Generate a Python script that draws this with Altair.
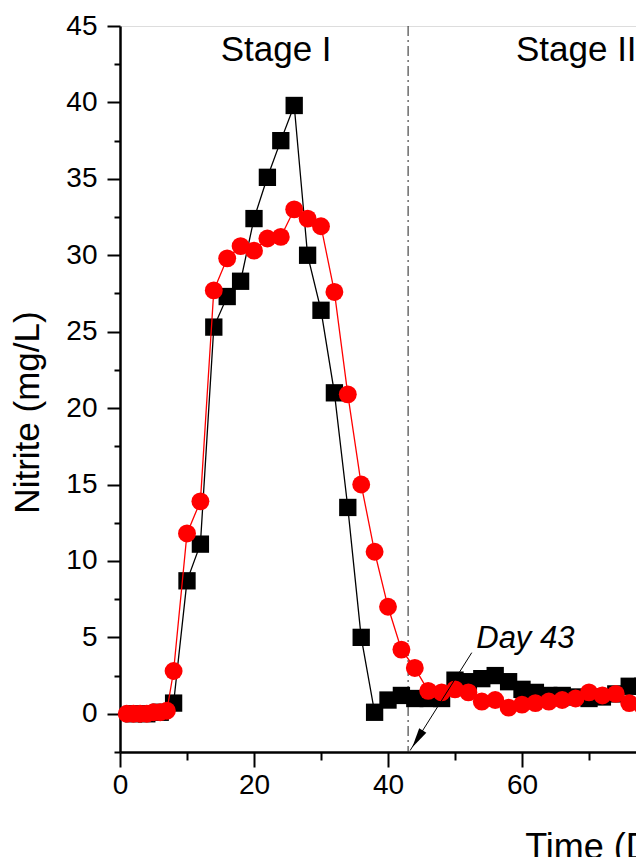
import altair as alt
import pandas as pd

# ---------------- data ----------------
black_days = [2, 4, 6, 8, 10, 12, 14, 16, 18, 20, 22, 24, 26, 28, 30, 32, 34, 36, 38, 40,
              42, 44, 46, 48, 50, 52, 54, 56, 58, 60, 62, 64, 66, 68, 70, 72, 74, 76, 78, 80]
black_nitrite = [0.0, 0.0, 0.1, 0.7, 8.7, 11.1, 25.3, 27.3, 28.3, 32.4, 35.1, 37.5, 39.8, 30.0,
                 26.4, 21.0, 13.5, 5.0, 0.1, 0.9, 1.2, 1.0, 1.0, 1.0, 2.2, 2.1, 2.3, 2.5, 2.1,
                 1.6, 1.4, 1.2, 1.2, 1.1, 1.0, 1.1, 1.3, 1.8, 1.8, 1.8]

red_days = [1, 2, 3, 4, 5, 6, 7, 8, 10, 12, 14, 16, 18, 20, 22, 24, 26, 28, 30, 32, 34, 36,
            38, 40, 42, 44, 46, 48, 50, 52, 54, 56, 58, 60, 62, 64, 66, 68, 70, 72, 74, 76, 78, 80]
red_nitrite = [0.0, 0.0, 0.0, 0.0, 0.1, 0.1, 0.2, 2.8, 11.8, 13.9, 27.7, 29.8, 30.6, 30.3, 31.1,
               31.2, 33.0, 32.4, 31.9, 27.6, 20.9, 15.0, 10.6, 7.0, 4.2, 3.0, 1.5, 1.4, 1.6, 1.4,
               0.8, 0.9, 0.4, 0.6, 0.7, 0.8, 0.9, 1.0, 1.4, 1.2, 1.3, 0.7, 0.5, 0.6]

stage_labels = ["Stage I", "Stage II"]
stage_days = [23.3, 68.1]
stage_level = [42.7, 42.7]

divider_day = [43]

note_text = ["Day 43"]
note_day = [60.5]
note_level = [4.3]

arrow_from_day = [52.5]
arrow_from_level = [4.0]
arrow_to_day = [43.3]
arrow_to_level = [-2.4]
arrowhead_day = [44.4]
arrowhead_level = [-1.65]

y_ticks = [-2.5, 0, 2.5, 5, 7.5, 10, 12.5, 15, 17.5, 20, 22.5, 25, 27.5, 30, 32.5, 35, 37.5,
           40, 42.5, 45]
x_ticks = [0, 10, 20, 30, 40, 50, 60, 70, 80, 90, 100, 110, 120, 130, 140, 150]

FONT = "Liberation Sans"

df_black = pd.DataFrame({"day": black_days, "val": black_nitrite})
df_red = pd.DataFrame({"day": red_days, "val": red_nitrite})
df_stage = pd.DataFrame({"day": stage_days, "val": stage_level, "label": stage_labels})
df_div = pd.DataFrame({"day": divider_day})
df_note = pd.DataFrame({"day": note_day, "val": note_level, "label": note_text})
df_arrow = pd.DataFrame({"day": arrow_from_day, "val": arrow_from_level,
                         "day2": arrow_to_day, "val2": arrow_to_level})
df_head = pd.DataFrame({"day": arrowhead_day, "val": arrowhead_level})

# the full time axis (0-150 d) is wider than the window; only its left part is visible
x_scale = alt.Scale(domain=[0, 150], range=[0, 1005], nice=False, zero=False)
y_scale = alt.Scale(domain=[-2.5, 45], nice=False, zero=False)

x_axis = alt.Axis(
    title="Time (Days)", values=x_ticks,
    labelExpr="datum.value % 20 === 0 ? datum.label : ''",
    tickSize={"condition": {"test": "datum.value % 20 !== 0", "value": 8}, "value": 15},
    tickWidth=2, tickColor="black", domainColor="black", domainWidth=2.5,
    labelFont=FONT, labelFontSize=28, labelColor="black", labelPadding=4,
    labelOverlap=False, labelFlush=False,
    titleFont=FONT, titleFontSize=36, titleFontWeight="normal", titleColor="black",
    titleBaseline="alphabetic", titleX=502, titleY=106, grid=False,
)
y_axis = alt.Axis(
    title="Nitrite (mg/L)", values=y_ticks,
    labelExpr="datum.value % 5 === 0 ? datum.label : ''",
    tickSize={"condition": {"test": "datum.value % 5 !== 0", "value": 6}, "value": 13},
    tickWidth=2, tickColor="black", domainColor="black", domainWidth=2.5,
    labelFont=FONT, labelFontSize=28, labelColor="black", labelPadding=10,
    labelOverlap=False, labelFlush=False,
    titleFont=FONT, titleFontSize=35, titleFontWeight="normal", titleColor="black",
    titleBaseline="alphabetic", titleX=-82, titleY=386, grid=False,
)


def X(field="day"):
    return alt.X(f"{field}:Q", scale=x_scale, axis=x_axis)


def Y(field="val"):
    return alt.Y(f"{field}:Q", scale=y_scale, axis=y_axis)


divider = alt.Chart(df_div).mark_rule(color="#222222", strokeWidth=1,
                                       strokeDash=[10, 4, 2, 4]).encode(x=X())

black_line = alt.Chart(df_black).mark_line(color="black", strokeWidth=1.3).encode(x=X(), y=Y())
black_pts = alt.Chart(df_black).mark_point(shape="square", filled=True, size=300,
                                           color="black", opacity=1).encode(x=X(), y=Y())
red_line = alt.Chart(df_red).mark_line(color="#FF0000", strokeWidth=1.3).encode(x=X(), y=Y())
red_pts = alt.Chart(df_red).mark_point(shape="circle", filled=True, size=320,
                                       color="#FF0000", opacity=1).encode(x=X(), y=Y())

stages = alt.Chart(df_stage).mark_text(font=FONT, fontSize=35, color="black",
                                       align="center", baseline="alphabetic").encode(
    x=X(), y=Y(), text="label:N")

note = alt.Chart(df_note).mark_text(font=FONT, fontSize=31, fontStyle="italic", color="black",
                                    align="center", baseline="alphabetic").encode(
    x=X(), y=Y(), text="label:N")

arrow = alt.Chart(df_arrow).mark_rule(color="black", strokeWidth=1).encode(
    x=X(), y=Y(), x2="day2:Q", y2="val2:Q")

head = alt.Chart(df_head).mark_point(shape="M-0.42,-1L0.42,-1L0,1Z", filled=True, size=400,
                                     angle=32, color="black", opacity=1).encode(x=X(), y=Y())

chart = alt.layer(
    divider, black_line, black_pts, red_line, red_pts, stages, note, arrow, head
).properties(
    width=516, height=726,
    autosize=alt.AutoSizeParams(type="none"),
    padding={"left": 112, "top": 18, "right": 0, "bottom": 105},
).configure_view(stroke=None).configure(background="white")

chart.save("out.html", embed_options={"renderer": "svg", "actions": False})
